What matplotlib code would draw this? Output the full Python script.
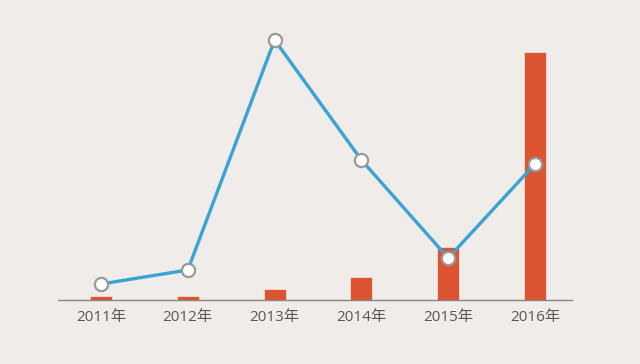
import matplotlib.pyplot as plt

plt.rcParams['font.family'] = ['Noto Sans CJK SC', 'DejaVu Sans']

years = ["2011年", "2012年", "2013年", "2014年", "2015年", "2016年"]
bar_values = [4, 4, 11, 23, 53, 248]
line_values = [16, 30, 260, 140, 42, 136]

bg = "#f0ecea"
fig = plt.figure(figsize=(6.4, 3.64), dpi=100, facecolor=bg)
ax = fig.add_axes([58/640, 1 - 300/364, (572 - 58)/640, 260/364])
ax.set_facecolor(bg)

x = list(range(len(years)))
ax.bar(x, bar_values, width=0.255, color="#dd5433", edgecolor="#f4e0d8", linewidth=0.6, zorder=2)

ax2 = ax.twinx()
ax2.plot(x, line_values, color="#3aa3d4", linewidth=2.4, marker="o", markersize=9.5,
         markerfacecolor="white", markeredgecolor="#999999", markeredgewidth=1.6,
         clip_on=False, zorder=3)

for a in (ax, ax2):
    a.set_xlim(-0.495, 5.426)
    a.set_ylim(0, 260)
    for s in ["top", "right", "left"]:
        a.spines[s].set_visible(False)
    a.set_yticks([])
ax2.spines["bottom"].set_visible(False)
ax.spines["bottom"].set_color("#8a8582")
ax.spines["bottom"].set_linewidth(1)

ax.set_xticks(x)
ax.set_xticklabels(years, fontsize=11, color="#5a5654",
                   family=["Open Sans", "Noto Sans CJK SC"])
ax.tick_params(axis="x", length=0, pad=7)

fig.savefig("out.png", dpi=100, facecolor=bg)
